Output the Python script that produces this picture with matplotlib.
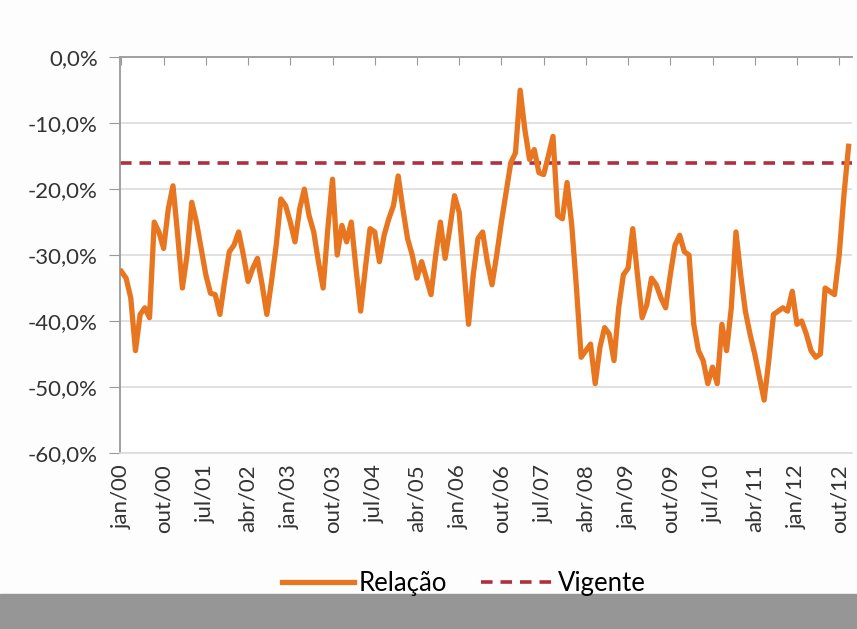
import matplotlib
matplotlib.use("Agg")
import matplotlib.pyplot as plt
from matplotlib.patches import Rectangle

# Relação mensal, jan/00 a dez/12 (%)
relacao = [
    -32.5, -33.5, -36.5, -44.5, -39.0, -38.0, -39.5, -25.0, -26.5, -29.0, -23.0, -19.5,  # 2000
    -27.0, -35.0, -30.0, -22.0, -25.0, -29.0, -33.0, -35.8, -36.0, -39.0, -34.0, -29.5,  # 2001
    -28.5, -26.5, -30.0, -34.0, -32.0, -30.5, -34.5, -39.0, -34.0, -28.5, -21.5, -22.5,  # 2002
    -25.0, -28.0, -23.0, -20.0, -24.0, -26.5, -31.0, -35.0, -26.0, -18.5, -30.0, -25.5,  # 2003
    -28.0, -25.0, -32.0, -38.5, -32.0, -26.0, -26.5, -31.0, -27.0, -24.5, -22.5, -18.0,  # 2004
    -23.0, -27.5, -30.0, -33.5, -31.0, -33.5, -36.0, -30.0, -25.0, -30.5, -26.0, -21.0,  # 2005
    -23.5, -32.0, -40.5, -33.0, -27.5, -26.5, -31.0, -34.5, -30.0, -25.0, -20.5, -16.0,  # 2006
    -14.5, -5.0, -11.0, -15.5, -14.0, -17.5, -17.8, -15.0, -12.0, -24.0, -24.5, -19.0,   # 2007
    -25.5, -35.0, -45.5, -44.5, -43.5, -49.5, -44.0, -41.0, -42.0, -46.0, -38.0, -33.0,  # 2008
    -32.0, -26.0, -33.0, -39.5, -37.5, -33.5, -34.5, -36.5, -38.0, -33.0, -28.5, -27.0,  # 2009
    -29.5, -30.0, -40.5, -44.5, -46.0, -49.5, -47.0, -49.5, -40.5, -44.5, -38.0, -26.5,  # 2010
    -33.0, -38.5, -42.0, -45.0, -48.5, -52.0, -46.0, -39.0, -38.5, -38.0, -38.5, -35.5,  # 2011
    -40.5, -40.0, -42.0, -44.5, -45.5, -45.0, -35.0, -35.5, -36.0, -30.0, -21.0, -13.5,  # 2012
]
vigente = -16.0

tick_labels = ['jan/00', 'out/00', 'jul/01', 'abr/02', 'jan/03', 'out/03',
               'jul/04', 'abr/05', 'jan/06', 'out/06', 'jul/07', 'abr/08',
               'jan/09', 'out/09', 'jul/10', 'abr/11', 'jan/12', 'out/12']
y_ticks = [0, -10, -20, -30, -40, -50, -60]

plt.rcParams['font.family'] = ['Lato', 'DejaVu Sans']

fig = plt.figure(figsize=(8.57, 6.29), dpi=100)
fig.patch.set_facecolor('#fdfdfd')
ax = fig.add_axes([0.140, 0.280, 0.854, 0.629])
ax.set_facecolor('white')

# Faixa cinza do recorte na base
fig.patches.append(Rectangle((0, 0), 1, 0.055, transform=fig.transFigure,
                             color='#969696', zorder=0))

meses = list(range(len(relacao)))
ax.plot(meses, relacao, color='#E8751F', lw=3.8, solid_joinstyle='round',
        label='Relação', zorder=3)
ax.axhline(vigente, color='#B03040', lw=2.6, ls=(0, (3.2, 2.2)),
           label='Vigente', zorder=2)

ax.set_ylim(-60, 0)
ax.set_xlim(-0.3, 155.7)
ax.set_yticks(y_ticks)
ax.set_yticklabels([f"{v:.1f}%".replace('.', ',') for v in y_ticks],
                   fontsize=16, color='#333333')
ax.yaxis.grid(True, color='#dcdcdc', lw=1.2)
ax.set_axisbelow(True)

ax.set_xticks(range(0, len(relacao), 9))
ax.set_xticklabels(tick_labels, rotation=90, fontsize=16, color='#333333')
ax.tick_params(axis='x', top=True, bottom=False, direction='in', length=6,
               color='#999999', labeltop=False, labelbottom=True, pad=8)
ax.tick_params(axis='y', direction='out', length=8, color='#999999', pad=8)

for s in ['top', 'left']:
    ax.spines[s].set_color('#999999')
    ax.spines[s].set_linewidth(1.3)
ax.spines['right'].set_visible(False)
ax.spines['bottom'].set_color('#dcdcdc')
ax.spines['bottom'].set_linewidth(1.2)

fig.legend(loc='center', bbox_to_anchor=(0.541, 0.073), ncol=2, frameon=False,
           fontsize=18.5, handlelength=2.8, columnspacing=1.3, handletextpad=0.2)

fig.savefig('out.png', dpi=100)
